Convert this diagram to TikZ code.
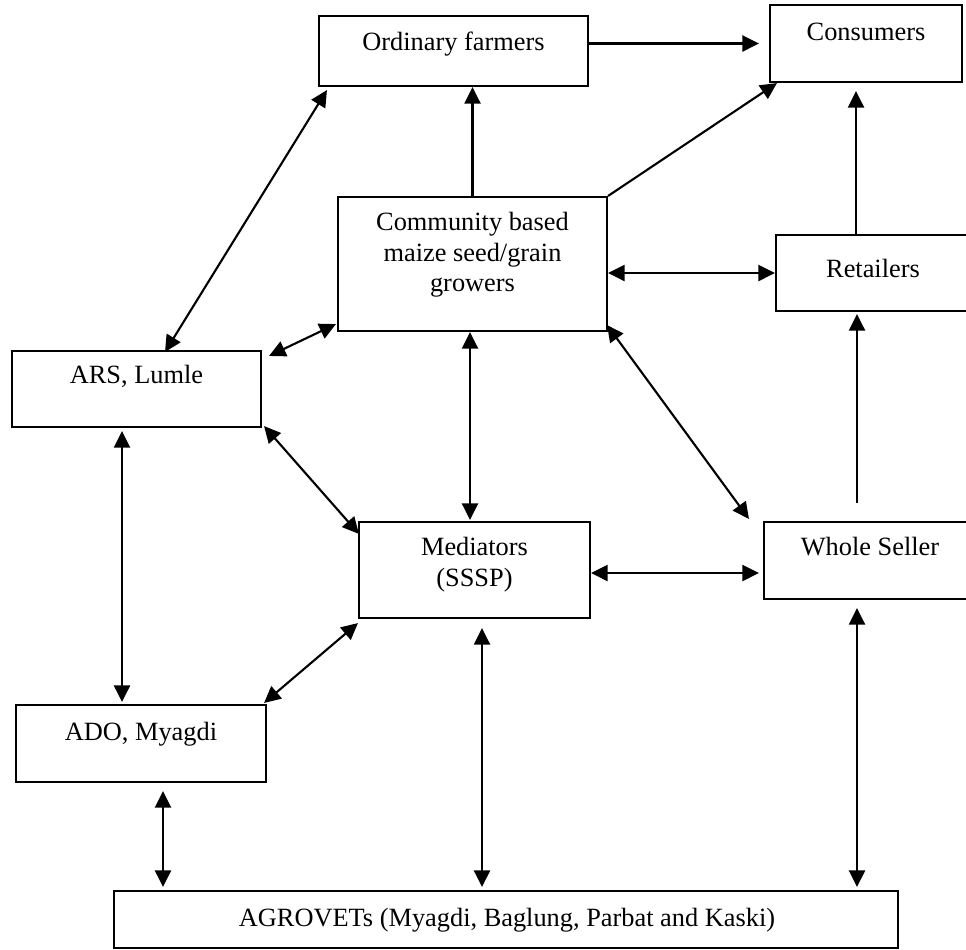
\documentclass[tikz,border=0pt]{standalone}
\usepackage{fontspec}
\setmainfont{Liberation Serif}
\usepackage{tikz}
\usetikzlibrary{calc,arrows.meta}

\begin{document}
\begin{tikzpicture}[
  actor/.style={rectangle,draw,line width=1.2pt,inner sep=0pt},
  tag/.style={inner sep=0pt,font=\fontsize{15}{17.4}\selectfont},
  flow/.style={line width=1.2pt,-{Triangle[length=0.33cm,width=0.32cm]}},
  link/.style={line width=1.2pt,{Triangle[length=0.33cm,width=0.32cm]}-{Triangle[length=0.33cm,width=0.32cm]}}
]
  \useasboundingbox (0,0) rectangle (19.32,-18.98);
  \clip (0,0) rectangle (19.32,-18.98);

  % Maize seed marketing channel (actors and links)
  \node[actor,minimum width=5.38cm,minimum height=1.40cm] (farmers) at (9.07,-1.02) {};
  \node[actor,minimum width=3.84cm,minimum height=1.54cm] (consumers) at (17.32,-0.87) {};
  \node[actor,minimum width=5.38cm,minimum height=2.68cm] (community) at (9.45,-5.28) {};
  \node[actor,minimum width=3.88cm,minimum height=1.52cm] (retailers) at (17.46,-5.46) {};
  \node[actor,minimum width=4.98cm,minimum height=1.52cm] (ars) at (2.73,-7.78) {};
  \node[actor,minimum width=4.62cm,minimum height=1.92cm] (mediators) at (9.49,-11.40) {};
  \node[actor,minimum width=4.24cm,minimum height=1.54cm] (wholeseller) at (17.40,-11.21) {};
  \node[actor,minimum width=5.00cm,minimum height=1.54cm] (ado) at (2.82,-14.87) {};
  \node[actor,minimum width=15.68cm,minimum height=1.14cm] (agrovets) at (10.12,-18.39) {};

  \node[tag,anchor=base] (farmersT) at ([yshift=-0.72cm]farmers.north) {Ordinary farmers};
  \node[tag,anchor=base] (consumersT) at ([yshift=-0.74cm]consumers.north) {Consumers};
  \node[tag,align=center] (communityT) at ([yshift=-1.18cm]community.north) {Community based\\maize seed/grain\\growers};
  \node[tag,anchor=base] (retailersT) at ([yshift=-0.88cm]retailers.north) {Retailers};
  \node[tag,anchor=base] (arsT) at ([yshift=-0.68cm]ars.north) {ARS, Lumle};
  \node[tag,align=center] (mediatorsT) at ([yshift=-0.87cm]mediators.north) {Mediators\\(SSSP)};
  \node[tag,anchor=base] (wholesellerT) at ([yshift=-0.70cm]wholeseller.north) {Whole Seller};
  \node[tag,anchor=base] (adoT) at ([yshift=-0.74cm]ado.north) {ADO, Myagdi};
  \node[tag,anchor=base] (agrovetsT) at ([xshift=0.02cm,yshift=-0.74cm]agrovets.north) {AGROVETs (Myagdi, Baglung, Parbat and Kaski)};

  \draw[flow] (consumers.west -| farmers.east) -- ([xshift=-0.2cm]consumers.west);
  \draw[flow] (community.north) -- (community.north |- farmers.south);
  \draw[flow] (community.north east) -- ([xshift=0.16cm]consumers.south west);
  \draw[flow] ($(retailers.north)+(-0.34,0)$) -- ($(retailers.north |- consumers.south)+(-0.34,-0.16)$);
  \draw[link] (community.east |- retailers.west) -- (retailers.west);
  \draw[flow] ($(wholeseller.north)+(-0.26,0.36)$) -- ($(wholeseller.north |- retailers.south)+(-0.26,-0.04)$);
  \draw[link] ($(ars.north)+(0.57,-0.04)$) -- ($(farmers.south west)+(0.18,-0.06)$);
  \draw[link] ($(ars.north east)+(0.14,-0.12)$) -- ($(community.south west)+(-0.02,0.16)$);
  \draw[link] ($(ars.south)+(-0.29,-0.06)$) -- ($(ars.south |- ado.north)+(-0.29,0.04)$);
  \draw[link] ($(ars.south east)+(0.04,0.04)$) -- ($(mediators.north west)+(0.02,-0.26)$);
  \draw[link] ($(community.south)+(-0.05,0)$) -- ($(community.south |- mediators.north)+(-0.05,0.02)$);
  \draw[link] ($(community.south east)+(-0.02,0.14)$) -- ($(wholeseller.north west)+(-0.28,0.04)$);
  \draw[link] ($(mediators.east)+(0,-0.06)$) -- ($(mediators.east -| wholeseller.west)+(-0.08,-0.06)$);
  \draw[link] ($(ado.north east)+(-0.06,0.02)$) -- ($(mediators.south west)+(0,-0.08)$);
  \draw[link] ($(ado.south)+(0.44,-0.16)$) -- ($(ado.south |- agrovets.north)+(0.44,0.06)$);
  \draw[link] ($(mediators.south)+(0.15,-0.18)$) -- ($(mediators.south |- agrovets.north)+(0.15,0.06)$);
  \draw[link] ($(wholeseller.south)+(-0.26,-0.16)$) -- ($(wholeseller.south |- agrovets.north)+(-0.26,0.06)$);
\end{tikzpicture}
\end{document}
